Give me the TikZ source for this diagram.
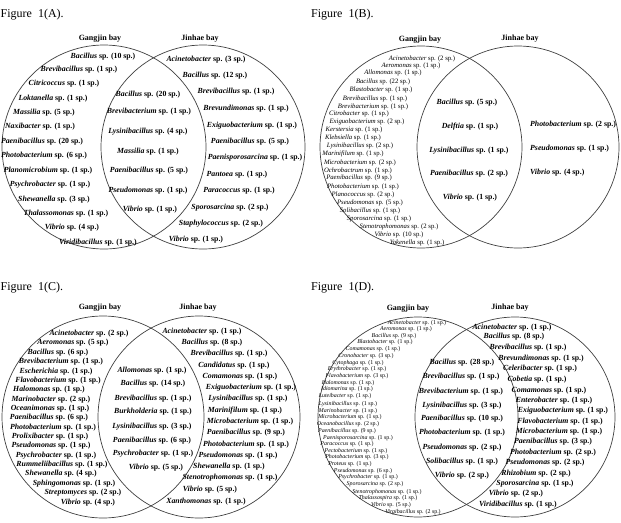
\documentclass[tikz,border=0pt]{standalone}
\usepackage{fontspec}
\setmainfont{Liberation Serif}
\usepackage{tikz}
\usetikzlibrary{positioning}

% genus in italics, then the count
\newcommand{\taxon}[2]{\textit{#1} sp. (#2 sp.)}

\tikzset{
  venn/.style={circle, draw=black!75, line width=0.7pt, inner sep=0pt},
  bay/.style={font=\fontsize{8}{9}\selectfont\bfseries, inner sep=0pt},
  figlabel/.style={font=\fontsize{12}{14}\selectfont, anchor=base west, inner sep=0pt},
  taxa/.style={font=\fontsize{7.8}{9}\selectfont\bfseries, inner sep=0pt},
  taxasmall/.style={font=\fontsize{6.7}{8}\selectfont, inner sep=0pt},
  taxatiny/.style={font=\fontsize{5.9}{7}\selectfont, inner sep=0pt}
}

\begin{document}
\begin{tikzpicture}[x=1pt, y=-1pt]
    \useasboundingbox (0,0) rectangle (621,522);

    % ---------------- Figure 1(A)
    \node[figlabel] (figA) at (0.5,17) {Figure~~1(A).};
    \node[venn, minimum size=204pt] (gjA) at (104,147) {};
    \node[venn, minimum size=204pt] (jhA) at (203,147) {};
    \node[bay] (gjAlab) at (100,39) {Gangjin bay};
    \node[bay] (jhAlab) at (200,39) {Jinhae bay};

    \foreach \x/\y/\g/\n [count=\i] in {103/57/Bacillus/10, 79/70/Brevibacillus/1,
        64/84/Citricoccus/1, 53/99/Loktanella/1, 44/113/Massilia/5, 40/127/Naxibacter/1,
        42/142/Paenibacillus/20, 44/156/Photobacterium/6, 48/171/Planomicrobium/1,
        50/185/Psychrobacter/1, 54/200/Shewanella/3, 66/214/Thalassomonas/1,
        72/228/Vibrio/4, 98/243/Viridibacillus/1}
        \node[taxa] (aL\i) at (\x,\y) {\taxon{\g}{\n}};

    \foreach \x/\y/\g/\n [count=\i] in {148/95/Bacillus/20, 149/112/Brevibacterium/1,
        148/132/Lysinibacillus/4, 148/152/Massilia/1, 149/171/Paenibacillus/5,
        148/191/Pseudomonas/1, 150/210/Vibrio/1}
        \node[taxa] (aM\i) at (\x,\y) {\taxon{\g}{\n}};

    \foreach \x/\y/\g/\n [count=\i] in {206/60/Acinetobacter/3, 215/76/Bacillus/12,
        236/92/Brevibacillus/1, 246/109/Brevundimonas/1, 252/126/Exiguobacterium/1,
        250/142/Paenibacillus/5, 255/158/Paenisporosarcina/1, 237/175/Pantoea/1,
        239/191/Paracoccus/1, 230/208/Sporosarcina/2, 221/224/Staphylococcus/2,
        196/240/Vibrio/1}
        \node[taxa] (aR\i) at (\x,\y) {\taxon{\g}{\n}};

    % ---------------- Figure 1(B)
    \node[figlabel] (figB) at (311,17) {Figure~~1(B).};
    \node[venn, minimum size=202pt] (gjB) at (421,147) {};
    \node[venn, minimum size=202pt] (jhB) at (518,147) {};
    \node[bay] (gjBlab) at (420,40) {Gangjin bay};
    \node[bay] (jhBlab) at (520,39) {Jinhae bay};

    \foreach \x/\y/\g/\n [count=\i] in {422/59/Acinetobacter/2, 411/66/Aeromonas/1,
        393/73/Allomonas/1, 383/82/Bacillus/22, 381/90/Blastobacter/1,
        375/99/Brevibacillus/1, 373/107/Brevibacterium/1, 359/114/Citrobacter/1,
        367/122/Exiguobacterium/2, 354/130/Kerstersia/1, 353/138/Klebsiella/1,
        360/146/Lysinibacillus/2, 353/154/Marinifilum/1, 360/163/Microbacterium/2,
        358/171/Ochrobactrum/1, 359/178/Paenibacillus/9, 363/187/Photobacterium/1,
        363/195/Planococcus/2, 370/203/Pseudomonas/5, 370/211/Solibacillus/1,
        379/219/Sporosarcina/1, 399/227/Stenotrophomonas/2, 399/235/Vibrio/10,
        417/243/Yokenella/1}
        \node[taxasmall] (bL\i) at (\x,\y) {\taxon{\g}{\n}};

    \foreach \x/\y/\g/\n [count=\i] in {467/103/Bacillus/5, 470/127/Delftia/1,
        469/151/Lysinibacillus/1, 469/174/Paenibacillus/2, 470/198/Vibrio/1}
        \node[taxa] (bM\i) at (\x,\y) {\taxon{\g}{\n}};

    \foreach \y/\g/\n [count=\i] in {125/Photobacterium/2, 149/Pseudomonas/1, 173/Vibrio/4}
        \node[taxa, anchor=west] (bR\i) at (530,\y) {\taxon{\g}{\n}};

    % ---------------- Figure 1(C)
    \node[figlabel] (figC) at (0.5,290) {Figure~~1(C).};
    \node[venn, minimum size=202pt] (gjC) at (103,417) {};
    \node[venn, minimum size=202pt] (jhC) at (199,417) {};
    \node[bay] (gjClab) at (100,308) {Gangjin bay};
    \node[bay] (jhClab) at (198,308) {Jinhae bay};

    \foreach \x/\y/\g/\n [count=\i] in {89/334/Acinetobacter/2, 73/343/Aeromonas/5,
        58/353/Bacillus/6, 61/362/Brevibacterium/1, 56/372/Escherichia/1,
        58/381/Flavobacterium/1, 49/390/Halomonas/1, 51/400/Marinobacter/2,
        50/409/Oceanimonas/1, 49/418/Paenibacillus/6, 53/428/Photobacterium/1,
        50/437/Prolixibacter/1, 51/446/Pseudomonas/1, 56/456/Psychrobacter/1,
        62/465/Rummeliibacillus/1, 61/474/Shewanella/4, 74/484/Sphingomonas/1,
        83/493/Streptomyces/2, 88/503/Vibrio/4}
        \node[taxa] (cL\i) at (\x,\y) {\taxon{\g}{\n}};

    \foreach \x/\y/\g/\n [count=\i] in {152/371/Allomonas/1, 153/384/Bacillus/14,
        153/399/Brevibacillus/1, 153/412/Burkholderia/1, 152/427/Lysinibacillus/3,
        152/441/Paenibacillus/6, 153/454/Psychrobacter/1, 156/468/Vibrio/5}
        \node[taxa] (cM\i) at (\x,\y) {\taxon{\g}{\n}};

    \foreach \x/\y/\g/\n [count=\i] in {202/332/Acinetobacter/1, 212/343/Bacillus/8,
        229/354/Brevibacillus/1, 234/366/Candidatus/1, 240/377/Comamonas/1,
        251/388/Exiguobacterium/1, 248/399/Lysinibacillus/1, 245/411/Marinifilum/1,
        250/422/Microbacterium/1, 246/433/Paenibacillus/9, 246/445/Photobacterium/1,
        238/456/Pseudomonas/1, 229/467/Shewanella/1, 230/478/Stenotrophomonas/1,
        210/490/Vibrio/5, 206/502/Xanthomonas/1}
        \node[taxa] (cR\i) at (\x,\y) {\taxon{\g}{\n}};

    % ---------------- Figure 1(D)
    \node[figlabel] (figD) at (311,290) {Figure~~1(D).};
    \node[venn, minimum size=200pt] (gjD) at (418,417) {};
    \node[venn, minimum size=200pt] (jhD) at (515,417) {};
    \node[bay] (gjDlab) at (408,309) {Gangjin bay};
    \node[bay] (jhDlab) at (510,308) {Jinhae bay};

    \foreach \x/\y/\g/\n [count=\i] in {417/323/Acinetobacter/1, 406/329/Aeromonas/1,
        394/336/Bacillus/9, 385/342/Blastobacter/1, 373/349/Comamonas/1,
        366/356/Cronobacter/3, 358/363/Cytophaga/1, 357/369/Erythrobacter/1,
        357/376/Flavobacterium/3, 348/383/Halomonas/1, 347/389/Idiomarina/1,
        345/396/Luteibacter/1, 348/404/Lysinibacillus/1, 348/411/Marinobacter/1,
        350/417/Microbacterium/1, 348/424/Oceanobacillus/2, 347/431/Paenibacillus/9,
        358/438/Paenisporosarcina/1, 347/444/Paracoccus/1, 356/451/Pectobacterium/1,
        357/457/Photobacterium/3, 350/464/Proteus/1, 363/471/Pseudomonas/6,
        368/477/Psychrobacter/1, 375/484/Sporosarcina/2, 387/492/Stenotrophomonas/1,
        388/498/Thalassospira/1, 391/505/Vibrio/5, 413/512/Virgibacillus/2}
        \node[taxatiny] (dL\i) at (\x,\y) {\taxon{\g}{\n}};

    \foreach \x/\y/\g/\n [count=\i] in {462/363/Bacillus/28, 461/377/Brevibacillus/1,
        461/392/Brevibacterium/1, 462/406/Lysinibacillus/3, 462/419/Paenibacillus/10,
        462/433/Photobacterium/1, 462/448/Pseudomonas/2, 462/462/Solibacillus/1,
        462/476/Vibrio/2}
        \node[taxa] (dM\i) at (\x,\y) {\taxon{\g}{\n}};

    \foreach \x/\y/\g/\n [count=\i] in {512/328/Acinetobacter/1, 514/337/Bacillus/8,
        528/348/Brevibacillus/1, 541/359/Brevundimonas/1, 540/369/Celeribacter/1,
        537/380/Cobetia/1, 549/391/Comamonas/1, 554/401/Enterobacter/1,
        563/411/Exiguobacterium/1, 560/422/Flavobacterium/1, 559/432/Microbacterium/1,
        553/442/Paenibacillus/3, 553/453/Photobacterium/2, 545/463/Pseudomonas/2,
        536/474/Rhizobium/2, 535/484/Sporosarcina/1, 516/494/Vibrio/2,
        518/505/Viridibacillus/1}
        \node[taxa] (dR\i) at (\x,\y) {\taxon{\g}{\n}};
\end{tikzpicture}
\end{document}
